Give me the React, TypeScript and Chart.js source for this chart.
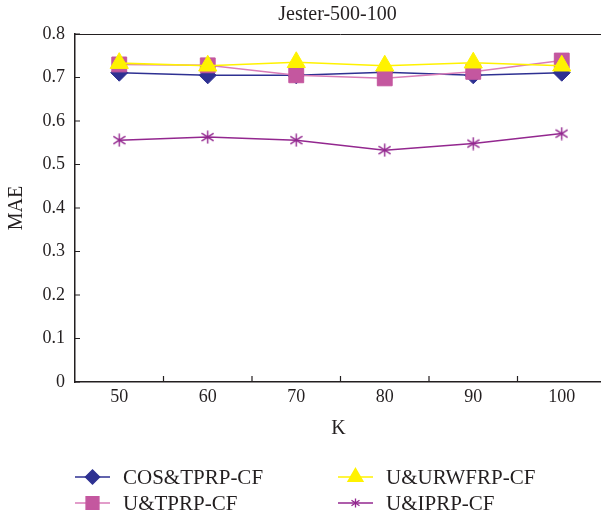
import React, { useEffect, useRef } from 'react';
import { Chart, registerables } from 'chart.js';
import { drawPoint } from 'chart.js/helpers';

Chart.register(...registerables);

const categories = ['50', '60', '70', '80', '90', '100'];
const cosTprpCf = [0.711, 0.705, 0.705, 0.712, 0.705, 0.711];
const uTprpCf = [0.730, 0.728, 0.705, 0.698, 0.713, 0.739];
const uUrwfrpCf = [0.733, 0.727, 0.735, 0.727, 0.734, 0.727];
const uIprpCf = [0.556, 0.563, 0.556, 0.533, 0.548, 0.571];
const yTickValues = [0, 0.1, 0.2, 0.3, 0.4, 0.5, 0.6, 0.7, 0.8];

const TEXT = '#231f20';
const FONT = "'Liberation Serif', 'Times New Roman', serif";
const BLUE = '#2e3192';
const PINK = '#c4579f';
const PINK_LINE = '#d97cb8';
const YELLOW = '#fff200';
const PURPLE = '#93278f';

function makeAsterisk(w: number, h: number, color: string, lw: number) {
  const c = document.createElement('canvas');
  c.width = w;
  c.height = h;
  const g = c.getContext('2d')!;
  g.strokeStyle = color;
  g.lineWidth = lw;
  g.beginPath();
  g.moveTo(w / 2, 0.5);
  g.lineTo(w / 2, h - 0.5);
  g.moveTo(0.5, h * 0.22);
  g.lineTo(w - 0.5, h * 0.78);
  g.moveTo(0.5, h * 0.78);
  g.lineTo(w - 0.5, h * 0.22);
  g.stroke();
  return c;
}

export default function App() {
  const ref = useRef<HTMLCanvasElement | null>(null);

  useEffect(() => {
    if (!ref.current) return;
    const asteriskBig = makeAsterisk(13, 14, PURPLE, 1.4);
    const asteriskSmall = makeAsterisk(9, 10, PURPLE, 1.3);

    const legendItems = [
      { label: 'COS&TPRP-CF', line: BLUE, fill: BLUE, style: 'rectRot', r: 7, col: 0, row: 0 },
      { label: 'U&TPRP-CF', line: PINK_LINE, fill: PINK, style: 'rect', r: 9, col: 0, row: 1 },
      { label: 'U&URWFRP-CF', line: YELLOW, fill: YELLOW, style: 'triangle', r: 8.5, col: 1, row: 0 },
      { label: 'U&IPRP-CF', line: PURPLE, fill: PURPLE, style: asteriskSmall as any, r: 5, col: 1, row: 1 },
    ];

    const decor = {
      id: 'decor',
      afterDraw(chart: any) {
        const { ctx, chartArea: a, scales } = chart;
        const x = scales.x;
        const y = scales.y;
        ctx.save();
        ctx.strokeStyle = TEXT;
        // top border
        ctx.lineWidth = 1;
        ctx.beginPath();
        ctx.moveTo(a.left, a.top + 0.5);
        ctx.lineTo(a.right, a.top + 0.5);
        ctx.stroke();
        // inward ticks
        ctx.lineWidth = 1.2;
        ctx.beginPath();
        for (const v of yTickValues) {
          const py = y.getPixelForValue(v);
          ctx.moveTo(a.left, py);
          ctx.lineTo(a.left + 5, py);
        }
        for (let i = 0; i < categories.length - 1; i++) {
          const px = (x.getPixelForValue(i) + x.getPixelForValue(i + 1)) / 2;
          ctx.moveTo(px, a.bottom);
          ctx.lineTo(px, a.bottom - 6);
        }
        ctx.stroke();

        ctx.fillStyle = TEXT;
        ctx.textBaseline = 'middle';
        ctx.textAlign = 'center';
        // title
        ctx.font = `20px ${FONT}`;
        ctx.fillText('Jester-500-100', (a.left + a.right) / 2 - 3, 15);
        // axis titles
        ctx.font = `20px ${FONT}`;
        ctx.fillText('K', (a.left + a.right) / 2 - 2, 429);
        ctx.save();
        ctx.translate(17, (a.top + a.bottom) / 2);
        ctx.rotate(-Math.PI / 2);
        ctx.fillText('MAE', 0, 0);
        ctx.restore();

        // legend
        const colX = [75, 338];
        const rowY = [477, 503];
        ctx.textAlign = 'left';
        ctx.font = `21px ${FONT}`;
        for (const it of legendItems) {
          const lx = colX[it.col];
          const ly = rowY[it.row];
          ctx.strokeStyle = it.line;
          ctx.lineWidth = 1.5;
          ctx.beginPath();
          ctx.moveTo(lx, ly);
          ctx.lineTo(lx + 35, ly);
          ctx.stroke();
          ctx.fillStyle = it.fill;
          ctx.strokeStyle = it.fill;
          drawPoint(ctx, { pointStyle: it.style, radius: it.r, rotation: 0, borderWidth: 1 } as any, lx + 17.5, ly);
          ctx.fillStyle = TEXT;
          ctx.fillText(it.label, lx + 48, ly + 1);
        }
        ctx.restore();
      },
    };

    const chart = new Chart(ref.current, {
      type: 'line',
      data: {
        labels: categories,
        datasets: [
          {
            label: 'U&URWFRP-CF',
            data: uUrwfrpCf,
            borderColor: YELLOW,
            backgroundColor: YELLOW,
            pointBackgroundColor: YELLOW,
            pointBorderColor: YELLOW,
            pointStyle: 'triangle',
            pointRadius: 10.5,
            pointBorderWidth: 1,
            borderWidth: 1.6,
            tension: 0,
          },
          {
            label: 'U&TPRP-CF',
            data: uTprpCf,
            borderColor: PINK_LINE,
            backgroundColor: PINK,
            pointBackgroundColor: PINK,
            pointBorderColor: PINK,
            pointStyle: 'rect',
            pointRadius: 10.5,
            pointBorderWidth: 1,
            borderWidth: 1.5,
            tension: 0,
          },
          {
            label: 'COS&TPRP-CF',
            data: cosTprpCf,
            borderColor: BLUE,
            backgroundColor: BLUE,
            pointBackgroundColor: BLUE,
            pointBorderColor: BLUE,
            pointStyle: 'rectRot',
            pointRadius: 8.5,
            pointBorderWidth: 1,
            borderWidth: 1.5,
            tension: 0,
          },
          {
            label: 'U&IPRP-CF',
            data: uIprpCf,
            borderColor: PURPLE,
            backgroundColor: PURPLE,
            pointStyle: asteriskBig as any,
            pointRadius: 6,
            borderWidth: 1.5,
            tension: 0,
          },
        ],
      },
      options: {
        animation: false,
        responsive: false,
        maintainAspectRatio: false,
        layout: { padding: { left: 0, top: 34, right: 14, bottom: 0 } },
        plugins: {
          legend: { display: false },
          title: { display: false },
          tooltip: { enabled: false },
        },
        scales: {
          x: {
            type: 'category',
            offset: true,
            grid: { display: true, drawOnChartArea: false, drawTicks: false },
            border: { display: true, color: TEXT, width: 1.5 },
            ticks: { color: TEXT, font: { family: FONT, size: 18 }, padding: 4, maxRotation: 0 },
            afterFit: (s: any) => {
              s.height = 135;
            },
          },
          y: {
            min: 0,
            max: 0.8,
            grid: { display: true, drawOnChartArea: false, drawTicks: false },
            border: { display: true, color: TEXT, width: 1.5 },
            ticks: {
              stepSize: 0.1,
              color: TEXT,
              font: { family: FONT, size: 18 },
              padding: 10,
              callback: (v: any) => (Number(v) === 0 ? '0' : Number(v).toFixed(1)),
            },
            afterFit: (s: any) => {
              s.width = 75;
            },
          },
        },
      },
      plugins: [decor],
    });
    return () => chart.destroy();
  }, []);

  return (
    <div style={{ position: 'absolute', left: 0, top: 0, width: 601, height: 517, overflow: 'hidden', background: '#fff' }}>
      <canvas ref={ref} width={620} height={517} style={{ display: 'block', width: 620, height: 517 }} />
    </div>
  );
}
